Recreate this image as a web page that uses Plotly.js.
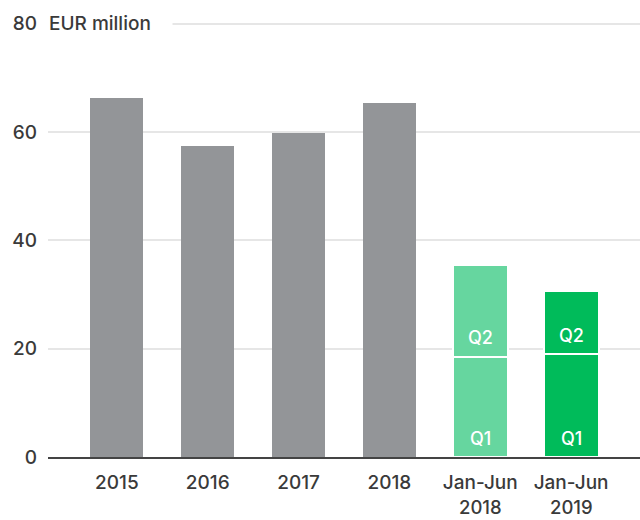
<!DOCTYPE html>
<html>
<head>
<meta charset="utf-8">
<script src="https://cdn.plot.ly/plotly-3.0.1.min.js"></script>
<style>html,body{margin:0;padding:0;background:#fff;}#chart{width:640px;height:520px;}</style>
</head>
<body>
<div id="chart"></div>
<script>
// Data
var categories = ["2015", "2016", "2017", "2018", "Jan-Jun 2018", "Jan-Jun 2019"];
var tickTop = ["2015", "2016", "2017", "2018", "Jan-Jun", "Jan-Jun"];
var tickBottom = ["", "", "", "", "2018", "2019"];
var yearCats = ["2015", "2016", "2017", "2018"];
var yearValues = [66.3, 57.4, 59.8, 65.4];
var halfCats = ["Jan-Jun 2018", "Jan-Jun 2019"];
var q1Values = [18.5, 19.0];
var q2Values = [16.9, 11.6];
var q1Label = "Q1";
var q2Label = "Q2";
var unitLabel = "EUR million";
var yTicks = [0, 20, 40, 60, 80];

var textColor = "#3a3a3a";
var grey = "#939598";
var greens = ["#66d69f", "#00bb5a"];
var fontFam = "Inter, 'Open Sans', sans-serif";

var traces = [
  {type: "bar", x: yearCats, y: yearValues, marker: {color: grey}, width: 0.5835, hoverinfo: "skip"},
  {type: "bar", x: halfCats, y: q1Values, marker: {color: greens, line: {color: "#ffffff", width: 2}}, width: 0.606, hoverinfo: "skip"},
  {type: "bar", x: halfCats, y: q2Values, marker: {color: greens, line: {color: "#ffffff", width: 2}}, width: 0.606, hoverinfo: "skip"}
];

var annotations = [];
halfCats.forEach(function (c, i) {
  annotations.push({x: c, y: 0, xref: "x", yref: "y", text: q1Label, showarrow: false, yanchor: "middle", yshift: 19, font: {family: fontFam, size: 18, weight: 500, color: "#ffffff"}});
  annotations.push({x: c, y: q1Values[i], xref: "x", yref: "y", text: q2Label, showarrow: false, yanchor: "middle", yshift: 19, font: {family: fontFam, size: 18, weight: 500, color: "#ffffff"}});
});
categories.forEach(function (c, i) {
  if (tickBottom[i]) {
    annotations.push({x: c, y: 0, xref: "x", yref: "paper", text: tickBottom[i], showarrow: false, yanchor: "middle", yshift: -50, borderpad: 0, font: {family: fontFam, size: 18.5, weight: 500, color: textColor}});
  }
});
annotations.push({x: 0, y: 80, xref: "paper", yref: "y", text: unitLabel, showarrow: false, xanchor: "left", yanchor: "middle", align: "left", width: 121, xshift: -2, borderpad: 2, bgcolor: "#ffffff", font: {family: fontFam, size: 19, weight: 500, color: textColor}});

var layout = {
  width: 640, height: 520,
  margin: {l: 48, r: 0, t: 2.4, b: 63.3},
  paper_bgcolor: "#ffffff", plot_bgcolor: "#ffffff",
  showlegend: false,
  barmode: "stack",
  font: {family: fontFam, size: 19, weight: 500, color: textColor},
  xaxis: {
    type: "category",
    categoryorder: "array", categoryarray: categories,
    range: [-0.7586, 5.759],
    tickvals: categories, ticktext: tickTop,
    ticks: "", showgrid: false, zeroline: false,
    showline: true, linecolor: "#444444", linewidth: 2,
    ticklabelstandoff: 7,
    tickfont: {family: fontFam, size: 19, weight: 500, color: textColor},
    fixedrange: true
  },
  yaxis: {
    range: [0, 84],
    tickvals: yTicks,
    ticks: "", showgrid: true, gridcolor: "#e6e6e6", gridwidth: 2,
    zeroline: false, showline: false,
    ticklabelstandoff: 10,
    tickfont: {family: fontFam, size: 19, weight: 500, color: textColor},
    fixedrange: true
  },
  annotations: annotations
};

Plotly.newPlot("chart", traces, layout, {displayModeBar: false, staticPlot: true});
</script>
</body>
</html>
